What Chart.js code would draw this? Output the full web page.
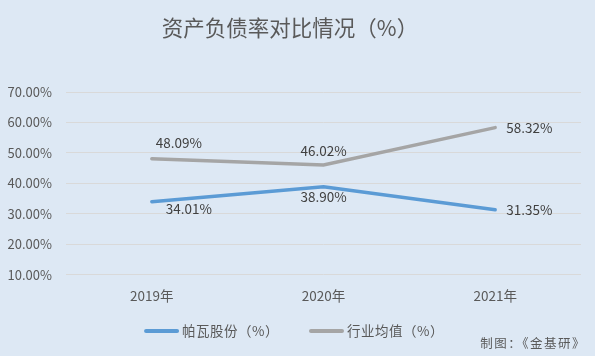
<!DOCTYPE html>
<html><head><meta charset="utf-8">
<script src="https://cdn.jsdelivr.net/npm/chart.js@4/dist/chart.umd.min.js"></script>
<style>
html,body{margin:0;padding:0;background:#dde8f4;}
#wrap{width:595px;height:356px;position:relative;}
</style></head>
<body><div id="wrap"><canvas id="c" width="595" height="356"></canvas></div>
<script>
const categories = ['2019年', '2020年', '2021年'];
const seriesNames = ['帕瓦股份（%）', '行业均值（%）'];
const pawaValues = [34.01, 38.90, 31.35];
const industryValues = [48.09, 46.02, 58.32];
const yTicks = [10, 20, 30, 40, 50, 60, 70];
const titleText = '资产负债率对比情况（%）';
const sourceText = '制图：《金基研》';

// label placement styles: [dx, dy, align]
const labelPos = {
  0: [[14, 7, 'left'], [0, 10, 'center'], [11, 0, 'left']],
  1: [[4, -16, 'left'], [0, -14, 'center'], [11, 0, 'left']]
};
const FONT = '"Microsoft YaHei","Noto Sans CJK SC","DejaVu Sans",sans-serif';

const labelPlugin = {
  id: 'labels',
  afterDatasetsDraw(chart) {
    const ctx = chart.ctx;
    ctx.save();
    ctx.font = '13.5px ' + FONT;
    ctx.fillStyle = '#404040';
    ctx.textBaseline = 'middle';
    chart.data.datasets.forEach((ds, di) => {
      const meta = chart.getDatasetMeta(di);
      meta.data.forEach((pt, i) => {
        const p = labelPos[di][i];
        ctx.textAlign = p[2];
        ctx.fillText(ds.data[i].toFixed(2) + '%', pt.x + p[0], pt.y + p[1]);
      });
    });
    ctx.restore();
  },
  afterDraw(chart) {
    const ctx = chart.ctx;
    ctx.save();
    // title
    ctx.font = '21.5px ' + FONT;
    ctx.fillStyle = '#595959';
    ctx.textAlign = 'center';
    ctx.textBaseline = 'middle';
    ctx.fillText(titleText, 290, 28);
    // legend (from datasets)
    ctx.font = '13.5px ' + FONT;
    ctx.letterSpacing = '0.5px';
    const lineW = 35, gapT = 3, gapItem = 30;
    const items = chart.data.datasets.map(ds => ({ ds, w: lineW + gapT + ctx.measureText(ds.label).width }));
    const total = items.reduce((a, b) => a + b.w, 0) + gapItem * (items.length - 1);
    let x = 294 - total / 2;
    const y = 331;
    items.forEach(it => {
      ctx.strokeStyle = it.ds.borderColor;
      ctx.lineWidth = 4;
      ctx.lineCap = 'round';
      ctx.beginPath();
      ctx.moveTo(x + 2, y);
      ctx.lineTo(x + lineW - 2, y);
      ctx.stroke();
      ctx.textAlign = 'left';
      ctx.fillStyle = '#595959';
      ctx.fillText(it.ds.label, x + lineW + gapT, y);
      x += it.w + gapItem;
    });
    // source
    ctx.font = '12.5px ' + FONT;
    ctx.letterSpacing = '1.5px';
    ctx.textAlign = 'right';
    ctx.fillText(sourceText, 586, 343);
    ctx.restore();
  }
};

new Chart(document.getElementById('c'), {
  type: 'line',
  data: {
    labels: categories,
    datasets: [
      { label: seriesNames[0], data: pawaValues, borderColor: '#5b9bd5', backgroundColor: '#5b9bd5',
        borderWidth: 3.5, pointRadius: 0, tension: 0, borderCapStyle: 'round' },
      { label: seriesNames[1], data: industryValues, borderColor: '#a5a5a5', backgroundColor: '#a5a5a5',
        borderWidth: 3.5, pointRadius: 0, tension: 0, borderCapStyle: 'round' }
    ]
  },
  options: {
    responsive: false,
    animation: false,
    devicePixelRatio: 1,
    layout: { padding: { left: 0, right: 14, top: 92, bottom: 47 } },
    plugins: {
      title: { display: false },
      tooltip: { enabled: false },
      legend: { display: false }
    },
    scales: {
      x: {
        offset: true,
        grid: { display: false },
        border: { display: false },
        ticks: { color: '#595959', font: { size: 13.5, family: FONT }, padding: 5 }
      },
      y: {
        min: 10, max: 70,
        afterFit(s) { s.width = 66; },
        afterBuildTicks(s) { s.ticks = yTicks.map(v => ({ value: v })); },
        grid: { color: '#d9d9d9', lineWidth: 1, drawTicks: false },
        border: { display: false },
        ticks: { color: '#595959', font: { size: 13, family: FONT }, padding: 14,
          callback: v => v.toFixed(2) + '%' }
      }
    }
  },
  plugins: [labelPlugin]
});
</script></body></html>
